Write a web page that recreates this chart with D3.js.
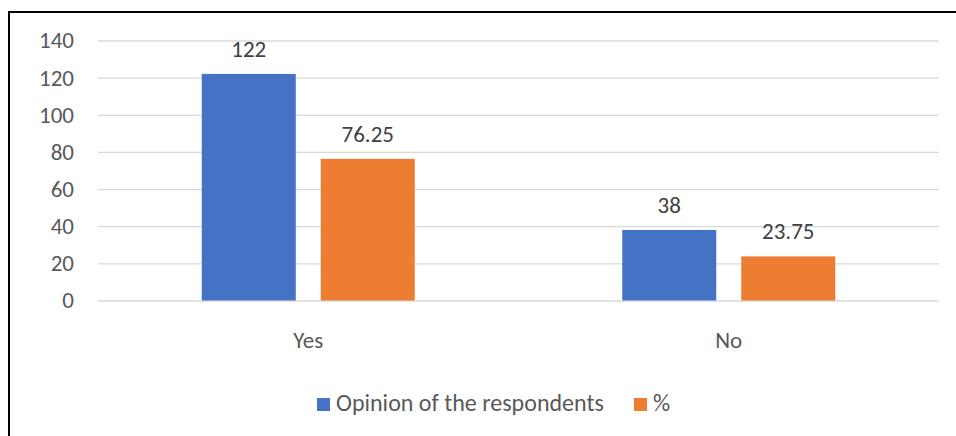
<!DOCTYPE html>
<html>
<head>
<meta charset="utf-8">
<script src="https://cdn.jsdelivr.net/npm/d3@7"></script>
<style>
  body { margin: 0; background: #fff; }
  svg { display: block; font-family: Carlito, Calibri, Lato, sans-serif; }
</style>
</head>
<body>
<svg width="956" height="436"></svg>
<script>
var categories = ["Yes", "No"];
var seriesNames = ["Opinion of the respondents", "%"];
var respondents = [122, 38];
var percent = [76.25, 23.75];
var yTicks = [0, 20, 40, 60, 80, 100, 120, 140];

var colors = ["#4472c4", "#ed7d31"];
var fs = "23px";

var svg = d3.select("svg"),
    width = +svg.attr("width"),
    height = +svg.attr("height");

// frame (only top + left edges show in the picture)
svg.append("path")
    .attr("d", "M9,436V12H956")
    .attr("fill", "none")
    .attr("stroke", "#000")
    .attr("stroke-width", 2);

var plotL = 98, plotR = 939, plotT = 40.5, plotB = 300.5;

var y = d3.scaleLinear().domain([0, 140]).range([plotB, plotT]);

var x0 = d3.scaleBand()
    .domain(categories)
    .range([plotL, plotR])
    .paddingInner(0.4935)
    .paddingOuter(0.2467);

var x1 = d3.scaleBand()
    .domain(seriesNames)
    .range([0, x0.bandwidth()])
    .paddingInner(0.21);

var rows = categories.map(function(c, i) {
  return {cat: c, values: [respondents[i], percent[i]]};
});

// gridlines + tick labels
var yAxis = d3.axisLeft(y)
    .tickValues(yTicks)
    .tickSize(-(plotR - plotL))
    .tickPadding(24)
    .tickFormat(d3.format("d"));

var ga = svg.append("g")
    .attr("transform", "translate(" + plotL + ",0)")
    .call(yAxis);
ga.select(".domain").remove();
ga.selectAll(".tick line").attr("stroke", "#d9d9d9").attr("stroke-width", 1.3);
ga.selectAll(".tick text")
    .attr("fill", "#595959")
    .style("font-size", fs)
    .style("font-family", "Carlito, Calibri, Lato, sans-serif");

// bars
var group = svg.selectAll(".grp")
    .data(rows)
    .enter().append("g")
      .attr("class", "grp")
      .attr("transform", function(d) { return "translate(" + x0(d.cat) + ",0)"; });

var bar = group.selectAll("g")
    .data(function(d) {
      return d.values.map(function(v, j) { return {name: seriesNames[j], value: v, j: j}; });
    })
    .enter().append("g");

bar.append("rect")
    .attr("x", function(d) { return x1(d.name); })
    .attr("y", function(d) { return y(d.value); })
    .attr("width", x1.bandwidth())
    .attr("height", function(d) { return y(0) - y(d.value); })
    .attr("fill", function(d) { return colors[d.j]; });

bar.append("text")
    .attr("x", function(d) { return x1(d.name) + x1.bandwidth() / 2; })
    .attr("y", function(d) { return y(d.value) - 17; })
    .attr("text-anchor", "middle")
    .attr("fill", "#404040")
    .style("font-size", fs)
    .text(function(d) { return d.value; });

// category labels
svg.selectAll(".cat")
    .data(categories)
    .enter().append("text")
      .attr("class", "cat")
      .attr("x", function(d) { return x0(d) + x0.bandwidth() / 2; })
      .attr("y", 348)
      .attr("text-anchor", "middle")
      .attr("fill", "#595959")
      .style("font-size", fs)
      .text(function(d) { return d; });

// legend
var legendX = [317, 634];
var legend = svg.selectAll(".legend")
    .data(seriesNames)
    .enter().append("g")
      .attr("class", "legend")
      .attr("transform", function(d, i) { return "translate(" + legendX[i] + ",398)"; });

legend.append("rect")
    .attr("width", 13)
    .attr("height", 13)
    .attr("fill", function(d, i) { return colors[i]; });

legend.append("text")
    .attr("x", 19)
    .attr("y", 13)
    .attr("fill", "#595959")
    .style("font-size", "24px")
    .text(function(d) { return d; });
</script>
</body>
</html>
